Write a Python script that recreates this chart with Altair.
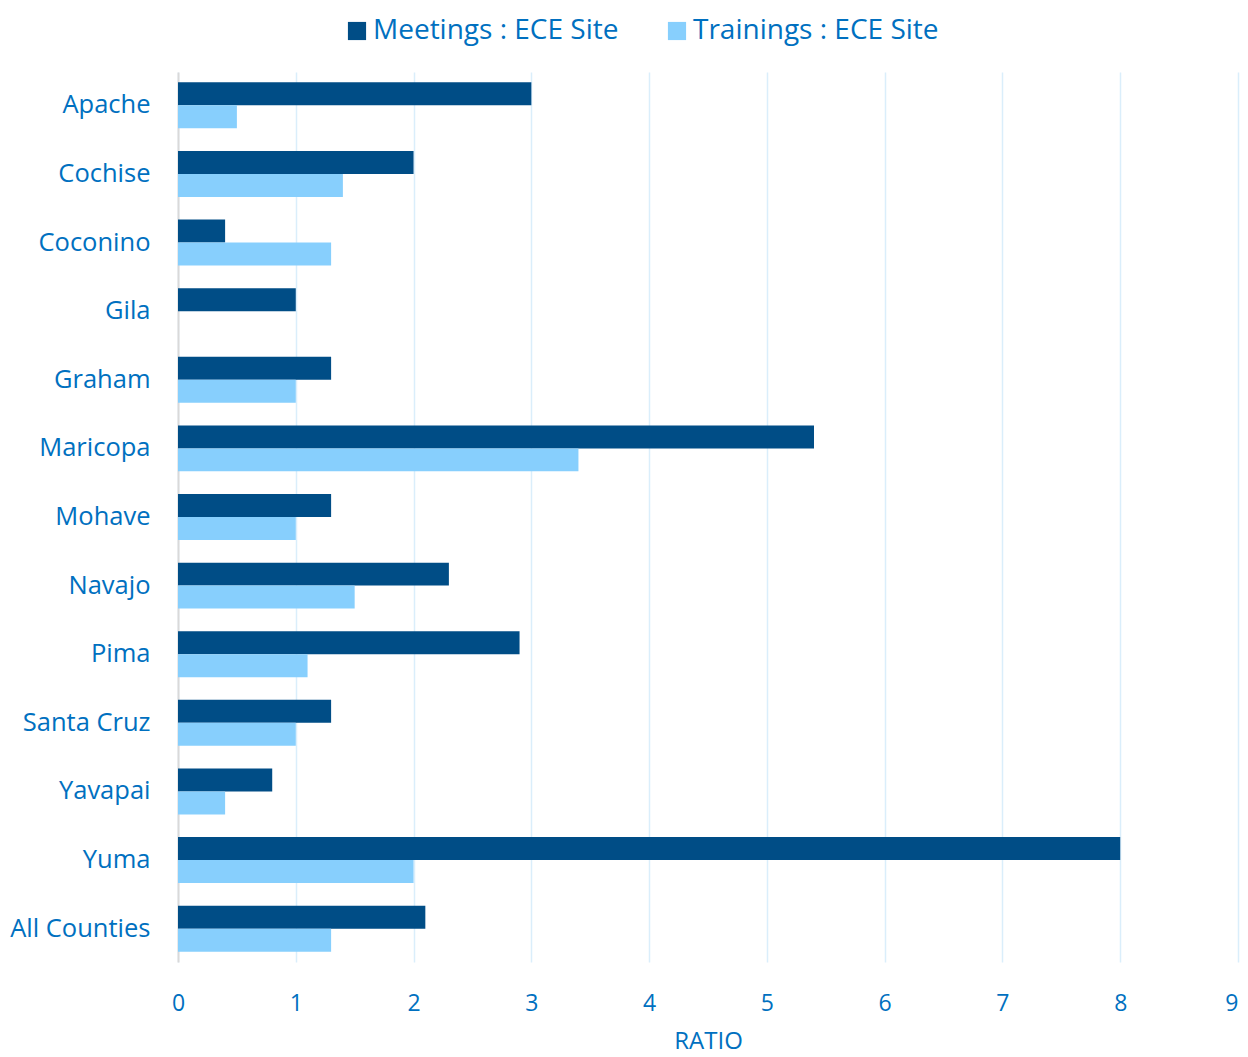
import altair as alt
import pandas as pd

counties = ["Apache", "Cochise", "Coconino", "Gila", "Graham", "Maricopa", "Mohave",
            "Navajo", "Pima", "Santa Cruz", "Yavapai", "Yuma", "All Counties"]
meetings = [3.0, 2.0, 0.4, 1.0, 1.3, 5.4, 1.3, 2.3, 2.9, 1.3, 0.8, 8.0, 2.1]
trainings = [0.5, 1.4, 1.3, 0.0, 1.0, 3.4, 1.0, 1.5, 1.1, 1.0, 0.4, 2.0, 1.3]
series = ["Meetings : ECE Site", "Trainings : ECE Site"]
colors = ["#004D86", "#87CFFD"]

rows = []
for c, m, t in zip(counties, meetings, trainings):
    rows.append({"County": c, "Series": series[0], "Value": m})
    rows.append({"County": c, "Series": series[1], "Value": t})
df = pd.DataFrame(rows)

FONT = "Open Sans"
TXT = "#0070C0"

chart = alt.Chart(df).mark_bar().encode(
    y=alt.Y("County:N", sort=counties,
            scale=alt.Scale(paddingInner=0.33, paddingOuter=0.15),
            axis=alt.Axis(title=None, labelFontSize=25.5, labelColor=TXT, labelFont=FONT,
                          labelPadding=28, ticks=False, domainColor="#D9D9D9",
                          domainWidth=2, grid=False, labelLimit=400)),
    yOffset=alt.YOffset("Series:N", sort=series, scale=alt.Scale(paddingInner=0, paddingOuter=0)),
    x=alt.X("Value:Q", scale=alt.Scale(domain=[0, 9], nice=False),
            axis=alt.Axis(title="RATIO", values=list(range(10)), tickCount=10,
                          labelFontSize=23, labelColor=TXT, labelFont=FONT,
                          labelFlush=False, labelBound=False,
                          labelAlign=alt.condition("datum.value == 9", alt.value("right"), alt.value("center")),
                          titleFontSize=24, titleColor=TXT, titleFont=FONT, titleFontWeight="normal",
                          titlePadding=14,
                          labelPadding=30, ticks=False, domain=False, gridColor="#DAEEFB",
                          gridWidth=1.5)),
    color=alt.Color("Series:N", sort=series,
                    scale=alt.Scale(domain=series, range=colors),
                    legend=alt.Legend(title=None, orient="none", legendX=165, legendY=-55,
                                      direction="horizontal", symbolType="square",
                                      symbolSize=330, symbolStrokeWidth=0, labelFontSize=28,
                                      labelColor=TXT, labelFont=FONT, columnPadding=44,
                                      labelOffset=2, labelLimit=400)),
).properties(
    width=1060, height=890,
    autosize=alt.AutoSizeParams(type="none"),
    padding={"left": 170, "top": 64, "right": 2, "bottom": 95},
).configure_view(stroke=None)

chart.save("out.html", embed_options={"renderer": "svg", "actions": False})
